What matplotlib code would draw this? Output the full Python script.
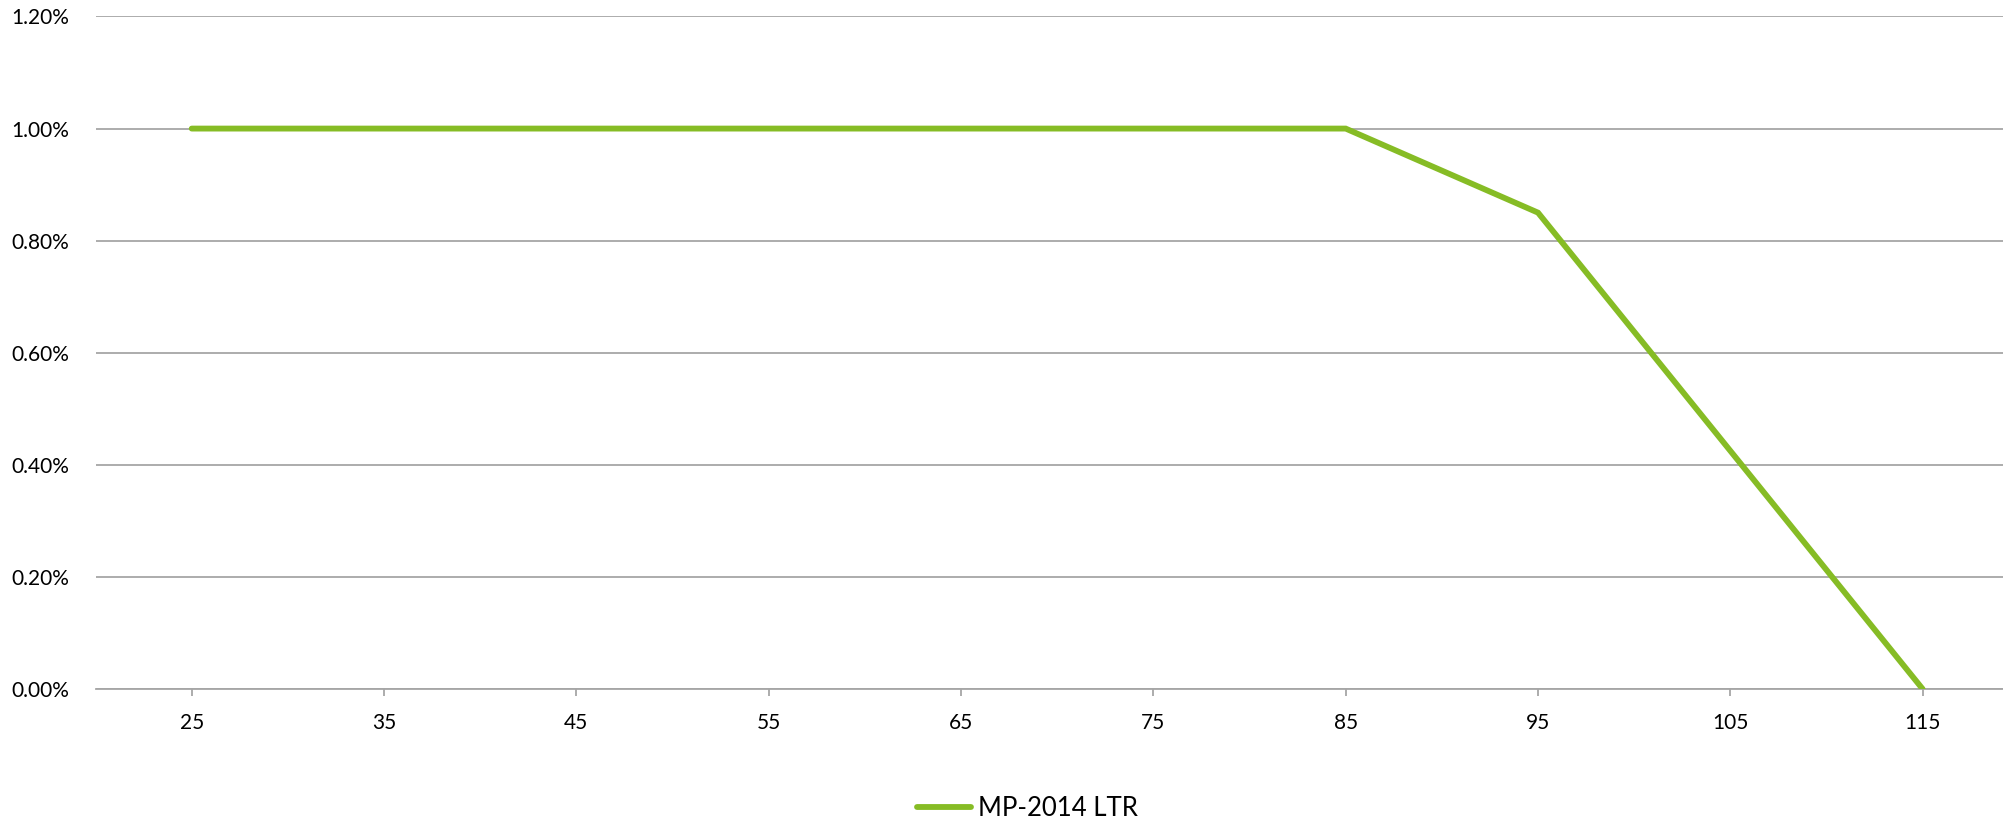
import matplotlib.pyplot as plt
from matplotlib.ticker import FuncFormatter

ages = [25, 35, 45, 55, 65, 75, 85, 95, 105, 115]
rates = [1.00, 1.00, 1.00, 1.00, 1.00, 1.00, 1.00, 0.85, 0.425, 0.00]  # percent
yticks = [0.0, 0.2, 0.4, 0.6, 0.8, 1.0, 1.2]
series_name = 'MP-2014 LTR'

plt.rcParams['font.family'] = ['Lato', 'DejaVu Sans']

fig = plt.figure(figsize=(20.03, 8.24), dpi=100)
# plot area runs a little past the right border of the image
ax = fig.add_axes([0.0477, 0.1638, 0.9602, 0.8162])

line, = ax.plot(ages, rates, color='#86BC25', lw=4.2, solid_capstyle='round',
                solid_joinstyle='miter', label=series_name, zorder=3)

ax.set_xlim(20, 120)
ax.set_ylim(0, 1.2)
ax.set_xticks(ages)
ax.set_yticks(yticks)
ax.yaxis.set_major_formatter(FuncFormatter(lambda v, p: '%.2f%%' % v))

ax.grid(axis='y', color='#A6A6A6', lw=1.3)
ax.set_axisbelow(True)
for s in ['top', 'right', 'left']:
    ax.spines[s].set_visible(False)
ax.spines['bottom'].set_color('#A6A6A6')
ax.spines['bottom'].set_linewidth(1.3)

ax.tick_params(axis='y', length=0, pad=19, labelsize=15, labelcolor='black')
ax.tick_params(axis='x', length=5, width=1.3, color='#A6A6A6', direction='out',
               pad=12, labelsize=15, labelcolor='black')

fig.legend(handles=[line], loc='center', bbox_to_anchor=(0.513, 0.019),
           frameon=False, fontsize=18.5, handlelength=2.1, handletextpad=0.25)

fig.savefig('out.png', dpi=100)
